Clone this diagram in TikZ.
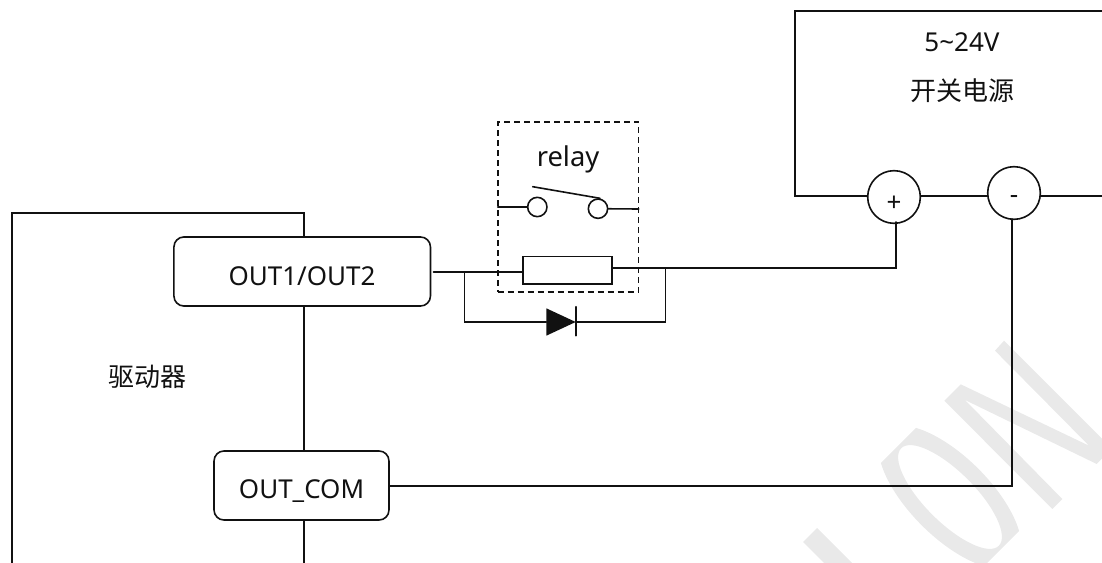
\documentclass[tikz,border=0pt]{standalone}
\usepackage{fontspec}
\setmainfont{Noto Sans}
\newfontfamily\cjk{Noto Sans CJK SC}
\definecolor{ink}{HTML}{111111}
\definecolor{wm}{HTML}{E9E9E9}
\tikzset{
  wire/.style={draw=ink,line width=1.2pt,line cap=round,line join=miter},
  termbox/.style={draw=ink,line width=1.2pt,rounded corners=7.5pt,fill=white,inner sep=0pt},
  lbl/.style={inner sep=0pt,text=ink,font=\fontsize{19.5pt}{22pt}\selectfont},
  cjklbl/.style={inner sep=0pt,text=ink,font=\cjk\fontsize{19.5pt}{22pt}\selectfont},
  pin/.style={circle,draw=ink,line width=1.2pt,fill=white,minimum size=39.5pt,inner sep=0pt},
  contact/.style={circle,draw=ink,line width=1.2pt,fill=white,minimum size=14.5pt,inner sep=0pt},
  coil/.style={rectangle,draw=ink,line width=1.2pt,fill=white,minimum width=66.8pt,minimum height=20.5pt,inner sep=0pt},
  dbox/.style={rectangle,draw=ink,line width=1.2pt,dashed,dash pattern=on 4.5pt off 3pt,minimum width=105.7pt,minimum height=127.5pt,inner sep=0pt}
}
\begin{document}
\begin{tikzpicture}[x=0.75pt,y=-0.75pt]
\useasboundingbox (0,0) rectangle (1102,563);
% watermark
\begin{scope}
  \clip (0,0) rectangle (1102,563);
  \fill[wm] (803,542) -- (817,528) -- (880,591) -- (866,605) -- cycle;
  \fill[wm] (944.3,400.7) -- (960.7,384.3) -- (1089,445.7) -- (995,350.7) -- (1004,340.7)
     -- (1112,448.7) -- (1096.7,464) -- (965,400) -- (1062.3,499) -- (1052.3,509) -- cycle;
  \begin{scope}
    \clip (1044,506.2) -- (959.2,591) -- (856,487.8) -- (940.8,403) -- cycle;
    \fill[wm,even odd rule] (950,497) circle [x radius=69.75pt,y radius=30pt,rotate=-45]
      (950,497) circle [x radius=51.75pt,y radius=18.75pt,rotate=-45];
  \end{scope}
\end{scope}
% named points
\coordinate (drvBL) at (12,563);
\coordinate (drvTL) at (12,213);
\coordinate (drvTR) at (304,213);
\coordinate (drvEnd) at (304,563);
\coordinate (psuTR) at (1102,11);
\coordinate (psuTL) at (795,11);
\coordinate (psuBL) at (795,196);
\coordinate (psuBR) at (1102,196);
\coordinate (wireL) at (433.5,272);
\coordinate (tapL) at (464.5,272);
\coordinate (tapR) at (665.5,268);
\coordinate (loopL) at (464.5,322);
\coordinate (loopR) at (665.5,322);
\coordinate (plusDrop) at (896,268);
\coordinate (plusUp) at (896,222);
\coordinate (comCorner) at (1012,486);
\coordinate (minusUp) at (1012,219);
\coordinate (swL) at (497.7,207);
\coordinate (swR) at (638.7,209);
\coordinate (bladeA) at (532.7,186.7);
\coordinate (bladeB) at (600,198.3);
% driver outline
\draw[wire] (drvBL) -- (drvTL) -- (drvTR) -- (304,237);
\draw[wire] (304,306) -- (304,451);
\draw[wire] (304,520) -- (drvEnd);
\node[termbox,minimum width=192.4pt,minimum height=51.8pt] (out1) at (302.2,271.5) {};
\node[termbox,minimum width=131.2pt,minimum height=51.8pt] (outcom) at (301.5,485.5) {};
\node[lbl] (out1t) at (302,276) {OUT1/OUT2};
\node[lbl] (outcomt) at (301.5,491) {OUT\_COM};
\node[cjklbl] (drv) at (147,377) {驱动器};
% power supply
\draw[wire] (psuTR) -- (psuTL) -- (psuBL) -- (psuBR);
\node[pin] (plus) at (894,197) {};
\node[pin] (minus) at (1014,193) {};
\node[lbl] (plust) at (894,204) {+};
\node[lbl] (minust) at (1014,200) {-};
\node[lbl] (v) at (962,42) {5\textasciitilde 24V};
\node[cjklbl] (psu) at (962,90.5) {开关电源};
% relay
\node[dbox] (relay) at (568.2,207) {};
\node[lbl,font=\fontsize{20.5pt}{24pt}\selectfont] (relayt) at (568,159) {relay};
\node[contact] (c1) at (537.3,207) {};
\node[contact] (c2) at (598,208.7) {};
\draw[wire] (swL) -- (c1);
\draw[wire] (c2) -- (swR);
\draw[wire] (bladeA) -- (bladeB);
\node[coil] (coil) at (567.3,270.3) {};
\draw[wire] (wireL) -- (tapL) -- (wireL -| coil.west);
\draw[wire] (tapR -| coil.east) -- (tapR) -- (plusDrop) -- (plusUp);
% diode
\coordinate (dA) at (546.3,322);
\coordinate (dK) at (575.7,322);
\fill[ink] (546.3,308.3) -- (546.3,335.7) -- (dK) -- cycle;
\draw[wire] (575.7,306.7) -- (575.7,335.7);
\draw[wire] (tapL) -- (loopL) -- (dA);
\draw[wire] (dK) -- (loopR) -- (tapR);
% common return
\draw[wire] (outcom.east |- comCorner) -- (comCorner) -- (minusUp);
\end{tikzpicture}
\end{document}
